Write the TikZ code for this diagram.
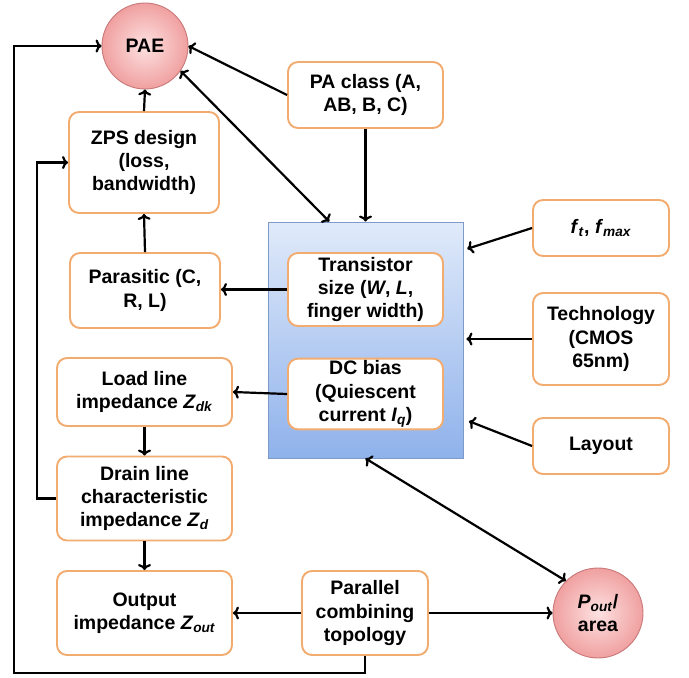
\documentclass[tikz,border=0pt]{standalone}
\usepackage{fontspec}
\setmainfont{Liberation Sans}
\usetikzlibrary{arrows.meta}

\definecolor{boxorange}{RGB}{242,172,112}
\definecolor{ballline}{RGB}{200,120,120}
\definecolor{ballin}{RGB}{253,225,225}
\definecolor{ballout}{RGB}{240,160,160}
\definecolor{blueline}{RGB}{125,155,200}
\definecolor{bluetop}{RGB}{224,234,250}
\definecolor{bluebot}{RGB}{143,178,235}

\tikzset{
  blk/.style={draw=boxorange, line width=1.9pt, rounded corners=10pt, fill=white, align=center, inner sep=2pt},
  ball/.style={circle, draw=ballline, line width=0.9pt, inner color=ballin, outer color=ballout, align=center, inner sep=0pt},
  conn/.style={line width=2.2pt, -{To[length=6pt,width=13pt]}},
  bconn/.style={line width=2.2pt, {To[length=6pt,width=13pt]}-{To[length=6pt,width=13pt]}},
}

\begin{document}
\begin{tikzpicture}[x=1pt, y=-1pt, font=\fontsize{19.5}{23.3}\selectfont\bfseries]
        \useasboundingbox (0,0) rectangle (689,678);
        \node[draw=blueline, line width=0.9pt, top color=bluetop, bottom color=bluebot, minimum width=195pt, minimum height=236pt] (core) at (365.5,340) {};
        \node[ball, minimum size=86pt] (pae) at (145,46) {PAE};
        \node[ball, minimum size=90pt] (pout) at (598,613) {\textit{P}\textsubscript{\textit{out}}/\\area};
        \node[blk, minimum width=150pt, minimum height=101pt] (zps) at (144,162.5) {ZPS design\\(loss,\\bandwidth)};
        \node[blk, minimum width=150pt, minimum height=75pt] (para) at (145,290.5) {Parasitic (C,\\R, L)};
        \node[blk, minimum width=155pt, minimum height=66pt] (cls) at (365.5,95) {PA class (A,\\AB, B, C)};
        \node[blk, minimum width=155pt, minimum height=73pt] (tsz) at (365.5,289.5) {Transistor\\size (\textit{W}, \textit{L},\\finger width)};
        \node[blk, minimum width=155pt, minimum height=68pt] (dcb) at (365.5,394) {DC bias\\(Quiescent\\current \textit{I}\textsubscript{\textit{q}})};
        \node[blk, minimum width=136pt, minimum height=56pt] (fmax) at (601,228) {\textit{f}\textsubscript{\textit{t}}, \textit{f}\textsubscript{\textit{max}}};
        \node[blk, minimum width=136pt, minimum height=92pt] (tech) at (601,339) {Technology\\(CMOS\\65nm)};
        \node[blk, minimum width=136pt, minimum height=56pt] (lay) at (601,446) {Layout};
        \node[blk, minimum width=175pt, minimum height=68pt] (load) at (144.5,392) {Load line\\impedance \textit{Z}\textsubscript{\textit{dk}}};
        \node[blk, minimum width=175pt, minimum height=84pt] (drn) at (144.5,498.5) {Drain line\\characteristic\\impedance \textit{Z}\textsubscript{\textit{d}}};
        \node[blk, minimum width=175pt, minimum height=84pt] (outz) at (144.5,613) {Output\\impedance \textit{Z}\textsubscript{\textit{out}}};
        \node[blk, minimum width=126pt, minimum height=84pt] (comb) at (365,613) {Parallel\\combining\\topology};
        \draw[conn] (zps.north) -- (pae.south);
        \draw[conn] (para.north) -- (zps.south);
        \draw[conn] (tsz.west) -- (para.east |- tsz.west);
        \draw[conn] (dcb.west) -- (load.east);
        \draw[conn] (load.south) -- (drn.north);
        \draw[conn] (drn.south) -- (outz.north);
        \draw[conn] (comb.west) -- (outz.east);
        \draw[conn] (comb.east) -- (pout.west);
        \draw[conn] (cls.west) -- (pae.east);
        \draw[conn] (cls.south) -- (core.north);
        \draw[bconn] (pae.-35) -- (core.107);
        \draw[bconn] (core.south) -- (pout.135);
        \draw[conn, shorten >=4pt] (fmax.west) -- (core.east |- 0,250);
        \draw[conn, shorten >=3pt] (tech.west) -- (core.east |- tech.west);
        \draw[conn, shorten >=6pt] (lay.west) -- (core.east |- 0,419);
        \draw[conn] (drn.west) -- ++(-19,0) |- (zps.west);
        \draw[conn] (comb.south) |- (14,673) |- (pae.west);
      \end{tikzpicture}
\end{document}
